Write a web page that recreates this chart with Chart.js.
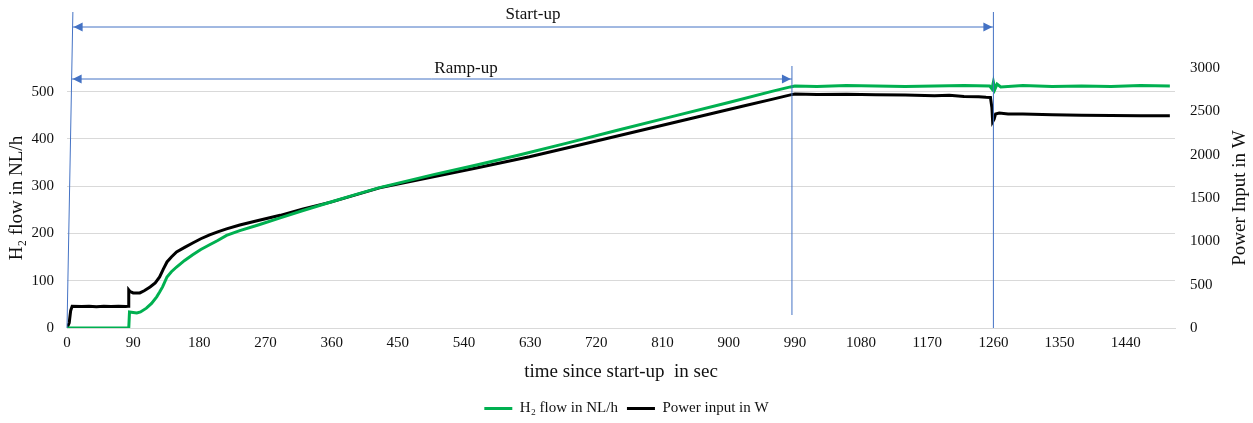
<!DOCTYPE html>
<html>
<head>
<meta charset="utf-8">
<script src="https://cdn.jsdelivr.net/npm/chart.js@4/dist/chart.umd.min.js"></script>
<style>
  html, body { margin: 0; padding: 0; background: #fff; }
  #wrap { width: 1253px; height: 423px; }
</style>
</head>
<body>
<div id="wrap"><canvas id="line-chart" width="1253" height="423"></canvas></div>
<script>
// H2 flow (NL/h)
var h2Time = [0, 84, 85, 90, 95, 100, 108, 115, 122, 126, 130, 136, 142, 149, 160, 171, 182, 194, 205, 217, 235, 260, 290, 320, 360, 390, 425, 500, 560, 615, 680, 750, 820, 900, 960, 984, 990, 1020, 1060, 1100, 1140, 1180, 1220, 1255, 1258, 1260, 1262, 1265, 1270, 1300, 1340, 1380, 1420, 1460, 1500];
var h2Flow = [0, 0, 34, 33, 32, 34, 42, 52, 66, 76, 87, 108, 119, 129, 143, 155, 166, 176, 185, 196, 206, 218, 233, 248, 267, 281, 297, 325, 346, 366, 391, 419, 446, 477, 501, 510, 512, 511, 513, 512, 511, 512, 513, 512, 506, 520, 505, 516, 510, 513, 511, 512, 511, 513, 512];

// power input (W)
var powerTime = [0, 3, 5, 7, 20, 30, 40, 50, 60, 70, 80, 83, 84, 86, 90, 99, 105, 113, 120, 126, 131, 136, 142, 149, 160, 171, 182, 194, 205, 217, 235, 260, 290, 320, 360, 425, 500, 560, 629, 700, 780, 850, 920, 960, 984, 990, 1020, 1060, 1100, 1140, 1180, 1200, 1220, 1240, 1250, 1256, 1258, 1259, 1261, 1263, 1268, 1280, 1300, 1340, 1380, 1420, 1460, 1500];
var powerInput = [0, 60, 200, 250, 248, 252, 245, 250, 248, 251, 249, 250, 440, 420, 405, 405, 430, 473, 520, 589, 680, 762, 820, 878, 930, 981, 1030, 1074, 1110, 1143, 1189, 1240, 1300, 1370, 1455, 1617, 1748, 1853, 1975, 2118, 2279, 2420, 2561, 2641, 2690, 2700, 2695, 2697, 2690, 2688, 2680, 2685, 2672, 2668, 2662, 2660, 2540, 2380, 2410, 2470, 2480, 2470, 2468, 2460, 2455, 2452, 2450, 2448];

// axis ticks
var timeTicks = [0, 90, 180, 270, 360, 450, 540, 630, 720, 810, 900, 990, 1080, 1170, 1260, 1350, 1440];
var flowTicks = [0, 100, 200, 300, 400, 500];
var powerTicks = [0, 500, 1000, 1500, 2000, 2500, 3000];

// phase markers (sec)
var startUpBegin = 0;
var startUpEnd = 1260;
var rampUpEnd = 986;

function pairs(xs, ys) {
  return xs.map(function (x, i) { return { x: x, y: ys[i] }; });
}

var blue = '#4472C4';
var ink = '#111';
var serif = '"Liberation Serif", "Times New Roman", serif';

function arrowHead(ctx, x, y, dir) {
  ctx.beginPath();
  ctx.moveTo(x, y);
  ctx.lineTo(x - dir * 9, y - 4.5);
  ctx.lineTo(x - dir * 9, y + 4.5);
  ctx.closePath();
  ctx.fill();
}

var phasePlugin = {
  id: 'phases',
  afterDraw: function (chart) {
    var ctx = chart.ctx;
    var xs = chart.scales.x;
    var area = chart.chartArea;
    var x0top = xs.getPixelForValue(startUpBegin + 8);
    var x0bot = xs.getPixelForValue(startUpBegin);
    var xEnd = xs.getPixelForValue(startUpEnd);
    var xRamp = xs.getPixelForValue(rampUpEnd);
    ctx.save();
    ctx.strokeStyle = blue;
    ctx.fillStyle = blue;
    ctx.lineWidth = 1;
    // vertical markers
    ctx.beginPath();
    ctx.moveTo(x0top, 12); ctx.lineTo(x0bot, area.bottom);
    ctx.moveTo(xEnd, 12); ctx.lineTo(xEnd, area.bottom);
    ctx.moveTo(xRamp, 66); ctx.lineTo(xRamp, area.bottom - 13);
    ctx.stroke();
    // arrows, starting on the slanted left marker
    var yS = 27, yR = 79;
    var lS = x0top - (yS - 12) / (area.bottom - 12) * (x0top - x0bot);
    var lR = x0top - (yR - 12) / (area.bottom - 12) * (x0top - x0bot);
    ctx.beginPath();
    ctx.moveTo(lS, yS); ctx.lineTo(xEnd, yS);
    ctx.moveTo(lR, yR); ctx.lineTo(xRamp, yR);
    ctx.stroke();
    arrowHead(ctx, lS + 1, yS, -1);
    arrowHead(ctx, xEnd - 1, yS, 1);
    arrowHead(ctx, lR + 1, yR, -1);
    arrowHead(ctx, xRamp - 1, yR, 1);
    // labels
    ctx.fillStyle = ink;
    ctx.font = '17px ' + serif;
    ctx.textAlign = 'center';
    ctx.textBaseline = 'middle';
    ctx.fillText('Start-up', 533, 15);
    ctx.fillText('Ramp-up', 466, 69);
    // right axis title, reading bottom to top
    ctx.translate(1240, (area.top + area.bottom) / 2);
    ctx.rotate(-Math.PI / 2);
    ctx.font = '19px ' + serif;
    ctx.fillText('Power Input in W', 0, 0);
    ctx.restore();
  }
};

function setTicks(list) {
  return function (scale) {
    scale.ticks = list.map(function (v) { return { value: v }; });
  };
}

function plain(v) { return String(v); }

var mychart = document.getElementById('line-chart');
var myLineChart = new Chart(mychart, {
  type: 'line',
  data: {
    datasets: [
      {
        label: 'H\u2082 flow in NL/h',
        data: pairs(h2Time, h2Flow),
        yAxisID: 'y',
        borderColor: '#00B050',
        backgroundColor: '#00B050',
        borderWidth: 3,
        pointRadius: 0,
        tension: 0
      },
      {
        label: 'Power input in W',
        data: pairs(powerTime, powerInput),
        yAxisID: 'y1',
        borderColor: '#000000',
        backgroundColor: '#000000',
        borderWidth: 3,
        pointRadius: 0,
        tension: 0
      }
    ]
  },
  options: {
    responsive: false,
    animation: false,
    layout: { padding: { top: 68, left: 0, right: 0, bottom: -3 } },
    plugins: {
      tooltip: { enabled: false },
      legend: {
        position: 'bottom',
        labels: {
          font: { family: serif, size: 15 },
          color: ink,
          boxWidth: 28,
          boxHeight: 3,
          padding: 9,
          generateLabels: function (chart) {
            return Chart.defaults.plugins.legend.labels.generateLabels(chart).map(function (l) {
              l.lineWidth = 0;
              return l;
            });
          }
        }
      }
    },
    scales: {
      x: {
        type: 'linear',
        min: 0,
        max: 1507,
        afterBuildTicks: setTicks(timeTicks),
        afterFit: function (s) { s.height = 64; },
        ticks: {
          autoSkip: false,
          maxRotation: 0,
          padding: 6,
          callback: plain,
          font: { family: serif, size: 15 },
          color: ink
        },
        grid: { display: false, drawTicks: false },
        border: { display: true, color: '#d9d9d9', width: 1 },
        title: {
          display: true,
          text: 'time since start-up  in sec',
          font: { family: serif, size: 19 },
          color: ink,
          padding: { top: 2, bottom: 9 }
        }
      },
      y: {
        position: 'left',
        min: 0,
        max: 550,
        afterBuildTicks: setTicks(flowTicks),
        afterFit: function (s) { s.width = 67; },
        ticks: {
          padding: 13,
          callback: plain,
          font: { family: serif, size: 15 },
          color: ink
        },
        grid: { color: '#d9d9d9', drawTicks: false },
        border: { display: false },
        title: {
          display: true,
          text: 'H\u2082 flow in NL/h',
          font: { family: serif, size: 19 },
          color: ink,
          padding: { top: 6, bottom: 0 }
        }
      },
      y1: {
        position: 'right',
        min: 0,
        max: 3000,
        afterBuildTicks: setTicks(powerTicks),
        afterFit: function (s) { s.width = 78; },
        ticks: {
          padding: 15,
          callback: plain,
          font: { family: serif, size: 15 },
          color: ink
        },
        grid: { display: false, drawTicks: false },
        border: { display: false },
        title: { display: false }
      }
    }
  },
  plugins: [phasePlugin]
});
</script>
</body>
</html>
